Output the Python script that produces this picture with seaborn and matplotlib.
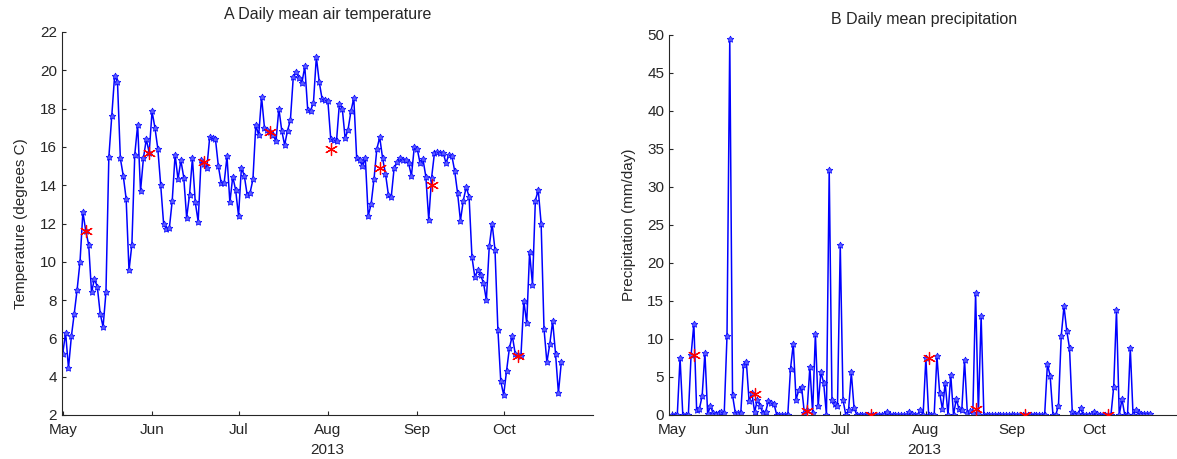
# Daily mean air temperature and precipitation, summer 2013
import pandas as pd
import matplotlib
matplotlib.use("Agg")
import matplotlib.pyplot as plt
import matplotlib.dates as mdates
import seaborn as sns

start_date = "2013-05-01"

# daily mean air temperature (degrees C), one value per day from 1 May
temp_c = [
    5.2, 6.3, 4.45, 6.1, 7.3, 8.55, 10.0, 12.6, 11.6, 10.9, 8.4, 9.1, 8.7, 7.3, 6.6,
    8.4, 15.45, 17.6, 19.7, 19.4, 15.4, 14.5, 13.3, 9.55, 10.9, 15.6, 17.15, 13.7,
    15.4, 16.4, 15.7, 17.85,
    17.0, 15.9, 14.0, 12.0, 11.7, 11.75, 13.2, 15.6, 14.3, 15.3, 14.4, 12.3, 13.5,
    15.4, 13.1, 12.1, 15.3, 15.1, 14.9, 16.5, 16.45, 16.4, 15.0, 14.1, 14.1, 15.5,
    13.1, 14.45, 13.75, 12.4, 14.9,
    14.5, 13.5, 13.6, 14.3, 17.15, 16.6, 18.6, 17.0, 16.9, 16.8, 16.6, 16.3, 18.0,
    16.85, 16.1, 16.85, 17.4, 19.65, 19.9, 19.6, 19.35, 20.2, 17.95, 17.9, 18.3,
    20.7, 19.4, 18.5, 18.45, 18.4, 16.4,
    16.35, 16.3, 18.25, 18.0, 16.45, 16.9, 17.85, 18.55, 15.4, 15.3, 15.0, 15.4,
    12.4, 13.0, 14.3, 15.9, 16.5, 15.4, 14.6, 13.5, 13.4, 14.9, 15.2, 15.4, 15.3,
    15.3, 15.15, 14.5, 16.0, 15.9, 15.15, 15.35, 14.45,
    12.2, 14.4, 15.7, 15.75, 15.7, 15.7, 15.15, 15.6, 15.55, 14.75, 13.6, 12.15,
    13.2, 13.9, 13.4, 10.25, 9.2, 9.55, 9.3, 8.9, 8.0, 10.8, 12.0, 10.6, 6.45, 3.75,
    3.05, 4.3, 5.5, 6.15, 5.2, 5.15, 5.1, 7.95, 6.8, 10.5, 8.8, 13.2, 13.75, 12.0,
    6.5, 4.75, 5.7, 6.9, 5.2, 3.15, 4.75,
]

# daily mean precipitation (mm/day), same days
precip_mm = (
    [0, 0, 0, 7.5, 0, 0, 0, 7.9, 12.0, 0.7,
     0.8, 2.5, 8.2, 0.1, 1.2, 0.2, 0.1, 0.3, 0.4, 0.3,
     10.4, 49.5, 2.6, 0.3, 0.3, 0.3, 6.6, 7.0, 1.8, 2.9,
     0.4, 2.0, 1.2, 0.2, 0.4, 1.9, 1.6, 1.5, 0, 0,
     0, 0, 0, 6.1, 9.4, 2.0, 3.3, 3.7, 0.3, 0.6,
     6.3, 0.3, 10.7, 1.2, 5.7, 4.2, 0, 32.3, 2.0, 1.5,
     1.2, 22.4, 2.0, 0, 0.6, 5.6, 0.9]
    + [0] * 11 + [0.35] + [0] * 7
    + [0.35, 0.1, 0, 0, 0.7, 0, 7.5, 0, 0, 0]
    + [7.75, 2.85, 0.75, 4.25, 0, 5.3, 0, 2.1, 0.75, 0.65, 7.2, 0.3, 0.5, 0.3,
       16.1, 0.2, 13.0, 0]
    + [0] * 22
    + [6.7, 5.1, 0, 0, 1.2, 10.4, 14.3, 11.1, 8.8, 0.4, 0.1, 0.1, 0.9, 0, 0, 0,
       0.1, 0.4, 0.1, 0, 0, 0, 0, 0, 3.7, 13.8, 0, 2.1, 0, 0, 8.8, 0, 0.6, 0.2,
       0.1, 0.1, 0.1, 0.1]
)

# sampling days (red asterisks)
sample_dates = ["2013-05-09", "2013-05-31", "2013-06-19", "2013-07-12",
                "2013-08-02", "2013-08-19", "2013-09-06", "2013-10-06"]
sample_temp = [11.6, 15.7, 15.2, 16.8, 15.9, 14.9, 14.0, 5.1]
sample_precip = [7.9, 2.8, 0.5, 0.0, 7.5, 0.8, 0.0, 0.0]

df = pd.DataFrame({
    "date": pd.date_range(start_date, periods=len(temp_c), freq="D"),
    "temp": temp_c,
    "precip": precip_mm,
})
samples = pd.DataFrame({
    "date": pd.to_datetime(sample_dates),
    "temp": sample_temp,
    "precip": sample_precip,
})

sns.set_style("ticks")
plt.rcParams["font.family"] = ["Liberation Sans", "DejaVu Sans"]
plt.rcParams["xtick.direction"] = "in"
plt.rcParams["ytick.direction"] = "in"

fig = plt.figure(figsize=(11.77, 4.59), dpi=100)
ax1 = fig.add_axes([62 / 1177, 44 / 459, 531 / 1177, 383 / 459])
ax2 = fig.add_axes([669 / 1177, 44 / 459, 511 / 1177, 380 / 459])

line_kw = dict(color="#0000ff", linewidth=1.1, marker=(5, 1, 0), markersize=5,
               markerfacecolor="#5a5aff", markeredgecolor="#0000ff",
               markeredgewidth=0.5)
star_kw = dict(marker=(6, 2, 0), s=75, color="red", edgecolor="red",
               linewidth=0.9, zorder=5)

sns.lineplot(data=df, x="date", y="temp", ax=ax1, **line_kw)
sns.scatterplot(data=samples, x="date", y="temp", ax=ax1, **star_kw)
sns.lineplot(data=df, x="date", y="precip", ax=ax2, **line_kw)
sns.scatterplot(data=samples, x="date", y="precip", ax=ax2, **star_kw)

ax1.set_xlim(pd.Timestamp("2013-04-30 18:00"), pd.Timestamp("2013-11-01"))
ax2.set_xlim(pd.Timestamp("2013-04-30"), pd.Timestamp("2013-11-01"))
for ax in (ax1, ax2):
    ax.xaxis.set_major_locator(mdates.MonthLocator(bymonth=range(5, 11)))
    ax.xaxis.set_major_formatter(mdates.DateFormatter("%b"))
    ax.set_xlabel("2013", fontsize=11, labelpad=4)
    ax.tick_params(labelsize=11, length=3, width=0.8)
    ax.tick_params(axis="x", pad=6)
    sns.despine(ax=ax)
    for side in ("left", "bottom"):
        ax.spines[side].set_linewidth(0.8)

ax1.set_ylim(2, 22)
ax1.set_yticks(range(2, 23, 2))
ax1.set_ylabel("Temperature (degrees C)", fontsize=11, labelpad=9)
ax1.set_title("A Daily mean air temperature", fontsize=11.5, pad=9)

ax2.set_ylim(0, 50)
ax2.set_yticks(range(0, 51, 5))
ax2.set_ylabel("Precipitation (mm/day)", fontsize=11, labelpad=8)
ax2.set_title("B Daily mean precipitation", fontsize=11.5, pad=8)

fig.savefig("out.png", dpi=100)
